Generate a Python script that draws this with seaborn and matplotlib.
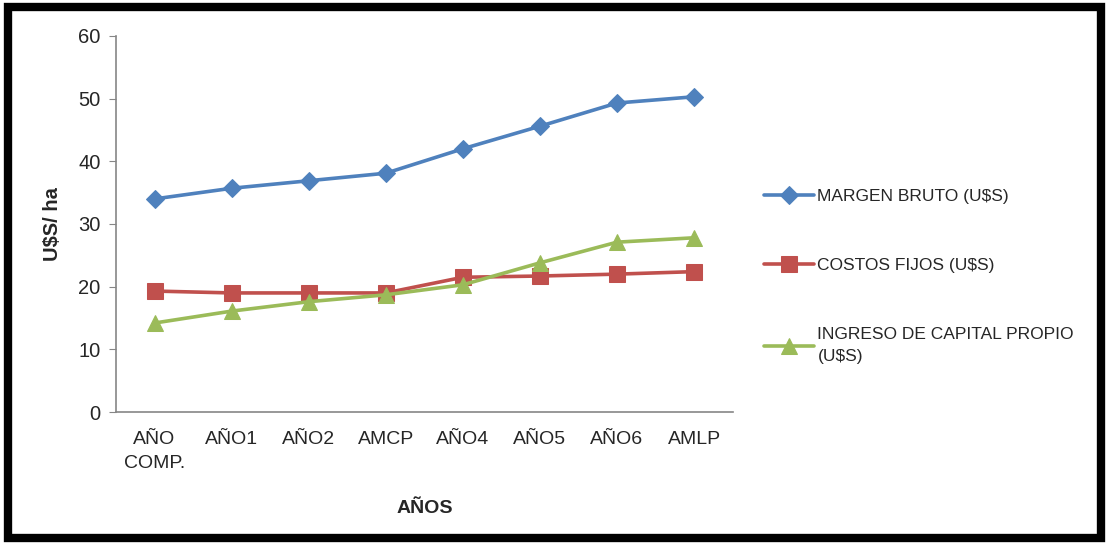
import pandas as pd
import matplotlib
matplotlib.use("Agg")
import matplotlib.pyplot as plt
import matplotlib.patches as patches
import seaborn as sns

# data
years = ["AÑO\nCOMP.", "AÑO1", "AÑO2", "AMCP", "AÑO4", "AÑO5", "AÑO6", "AMLP"]
margen_bruto = [34.0, 35.7, 36.9, 38.1, 42.0, 45.6, 49.3, 50.3]
costos_fijos = [19.3, 19.0, 19.0, 19.0, 21.5, 21.7, 22.0, 22.4]
ingreso_capital = [14.2, 16.1, 17.6, 18.7, 20.3, 23.8, 27.1, 27.8]

series_names = [
    "MARGEN BRUTO (U\\$S)",
    "COSTOS FIJOS (U\\$S)",
    "INGRESO DE CAPITAL PROPIO\n(U\\$S)",
]
colors = ["#4F81BD", "#C0504D", "#9BBB59"]
markers = ["D", "s", "^"]
msizes = [9, 11, 11]

sns.set_style("white")
plt.rcParams["font.family"] = ["Liberation Sans", "DejaVu Sans"]

fig = plt.figure(figsize=(11.09, 5.45), dpi=100)
ax = fig.add_axes([0.1046, 0.244, 0.556, 0.690])

all_vals = [margen_bruto, costos_fijos, ingreso_capital]
for i in range(len(series_names)):
    df = pd.DataFrame({"year": years, "value": all_vals[i]})
    sns.lineplot(
        data=df,
        x="year",
        y="value",
        sort=False,
        color=colors[i],
        marker=markers[i],
        markersize=msizes[i],
        markeredgecolor=colors[i],
        linewidth=2.6,
        label=series_names[i],
        ax=ax,
    )

ax.set_ylim(0, 60)
ax.set_yticks(range(0, 61, 10))
ax.set_xlim(-0.5, len(years) - 0.5)
ax.tick_params(axis="y", labelsize=14.5, length=5, color="#868686", direction="out", left=True, pad=6)
ax.tick_params(axis="x", labelsize=14, length=0, pad=14)
for lab in ax.get_xticklabels():
    lab.set_linespacing(1.5)
for s in ["top", "right"]:
    ax.spines[s].set_visible(False)
for s in ["left", "bottom"]:
    ax.spines[s].set_color("#868686")
    ax.spines[s].set_linewidth(1.2)

ax.set_ylabel("U\\$S/ ha", fontsize=14.5, fontweight="bold", labelpad=12)
ax.set_xlabel("AÑOS", fontsize=14, fontweight="bold", labelpad=20)

leg = ax.legend(
    loc="center left",
    bbox_to_anchor=(1.025, 0.36),
    frameon=False,
    fontsize=12.5,
    handlelength=2.9,
    labelspacing=3.1,
    handletextpad=0.2,
)
leg.get_texts()[2].set_linespacing(1.6)

# thick black frame around the whole picture
fig.patches.append(
    patches.Rectangle(
        (0.007, 0.012), 0.986, 0.975,
        transform=fig.transFigure, fill=False, edgecolor="black", linewidth=6,
    )
)

plt.savefig("out.png", dpi=100)
